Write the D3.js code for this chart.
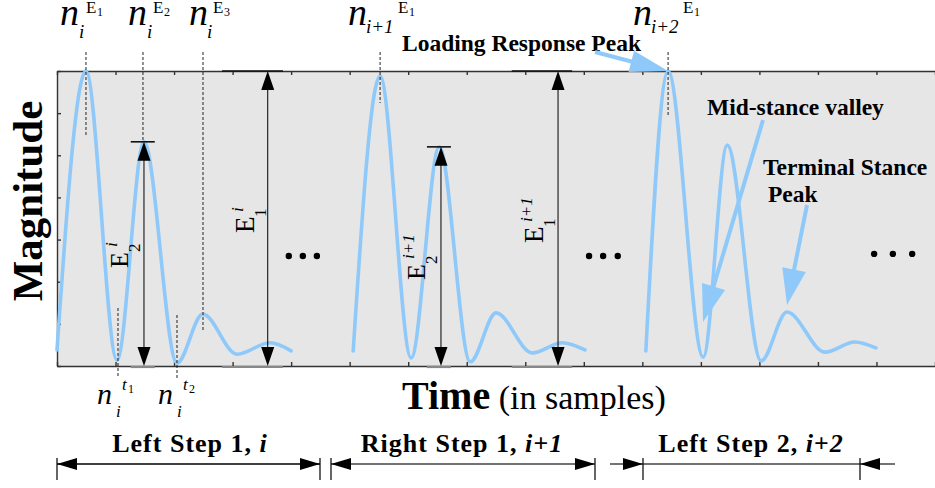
<!DOCTYPE html>
<html><head><meta charset="utf-8">
<script src="https://cdn.jsdelivr.net/npm/d3@7"></script>
<style>
body{margin:0;background:#fff}
svg{display:block}
text{font-family:"Liberation Serif","Times New Roman",serif;fill:#000}
</style>
</head><body>
<svg id="c" width="935" height="488"></svg>
<script>
// ---- data ----
const xTickValues = d3.range(0, 151, 10);   // samples
const yTickValues = d3.range(0, 8, 1);      // magnitude
const step1T = [0, 4.95, 10.25, 14.86, 20.5, 24.9, 30.75, 36.4, 40.0];
const step1V = [0.38, 7.0, 0.14, 5.32, 0.07, 1.23, 0.28, 0.55, 0.36];
const step2T = [50.6, 55.2, 60.5, 65.3, 70.6, 75.0, 81.2, 86.3, 90.2];
const step2V = [0.36, 6.88, 0.19, 5.2, 0.10, 1.26, 0.31, 0.55, 0.38];
const step3T = [100.6, 104.4, 110.4, 114.5, 120.3, 124.7, 131.2, 136.3, 139.9];
const step3V = [0.36, 7.0, 0.21, 5.24, 0.12, 1.28, 0.33, 0.57, 0.43];
const ellipsisT = [39.6, 42.0, 44.4, 90.9, 93.3, 95.8, 139.6, 142.8, 146.1];
const ellipsisV = [2.61, 2.61, 2.61, 2.61, 2.61, 2.61, 2.66, 2.66, 2.66];
const stepLabels = ["Left Step 1, ", "Right Step 1, ", "Left Step 2, "];
const stepIdx = ["i", "i+1", "i+2"];

const svg = d3.select("#c");
const x = d3.scaleLinear([0, 150], [57, 935]);
const y = d3.scaleLinear([0, 7], [366, 71]);

// background
svg.append("rect").attr("x", x(0)).attr("y", y(7))
  .attr("width", x(150) - x(0)).attr("height", y(0) - y(7)).attr("fill", "#e6e6e6");

// axes
function styleAxis(g){ g.selectAll("path,line").attr("stroke", "#333").attr("stroke-width", 1.4); }
svg.append("g").attr("transform", `translate(${x(0)},0)`)
  .call(d3.axisLeft(y).tickValues(yTickValues).tickSize(-4).tickSizeOuter(0).tickFormat(""))
  .call(styleAxis);
svg.append("g").attr("transform", `translate(0,${y(7)})`)
  .call(d3.axisTop(x).tickValues(xTickValues).tickSize(-4).tickSizeOuter(0).tickFormat(""))
  .call(styleAxis);
svg.append("g").attr("transform", `translate(0,${y(0)})`)
  .call(d3.axisBottom(x).tickValues(xTickValues).tickSize(-4).tickSizeOuter(0).tickFormat(""))
  .call(styleAxis);

// curves
const line = d3.line().x(d => x(d[0])).y(d => y(d[1])).curve(d3.curveMonotoneX);
[[step1T, step1V], [step2T, step2V], [step3T, step3V]].forEach(([T, V]) => {
  svg.append("path").datum(T.map((t, i) => [t, V[i]]))
    .attr("d", line).attr("fill", "none").attr("stroke", "#8fc9f9")
    .attr("stroke-width", 3.6).attr("stroke-linecap", "round");
});

// reference bars for E arrows
const barsTop = [[28.2, 38.6, 7], [12.6, 16.7, step1V[3]], [63.2, 67.3, step2V[3]], [77.7, 88.0, 7]];
barsTop.forEach(([a, b, v]) => {
  svg.append("line").attr("x1", x(a)).attr("x2", x(b)).attr("y1", y(v)).attr("y2", y(v))
    .attr("stroke", "#111").attr("stroke-width", 1.6);
  svg.append("line").attr("x1", x(a)).attr("x2", x(b)).attr("y1", y(0) + 1).attr("y2", y(0) + 1)
    .attr("stroke", "#888").attr("stroke-width", 2.2);
});

// E double arrows
const eArrowT = [14.86, 36.0, 65.6, 85.6];
const eArrowTop = [step1V[3], 7, step2V[3], 7];
eArrowT.forEach((t, i) => {
  const xx = x(t), yt = y(eArrowTop[i]), yb = y(0);
  svg.append("line").attr("x1", xx).attr("x2", xx).attr("y1", yt + 10).attr("y2", yb - 10)
    .attr("stroke", "#000").attr("stroke-width", 1);
  svg.append("path").attr("d", `M${xx},${yt}L${xx - 6.5},${yt + 19}L${xx + 6.5},${yt + 19}Z`).attr("fill", "#000");
  svg.append("path").attr("d", `M${xx},${yb}L${xx - 6.5},${yb - 19}L${xx + 6.5},${yb - 19}Z`).attr("fill", "#000");
});

// dashed guide lines
const dash = (x1, y1, y2) => svg.append("line").attr("x1", x1).attr("x2", x1).attr("y1", y1).attr("y2", y2)
  .attr("stroke", "#222").attr("stroke-width", 1).attr("stroke-dasharray", "3,2");
dash(x(step1T[1]), 52, 137);
dash(x(step1T[3]) - 1, 52, y(step1V[3]));
dash(203, 52, 330);
dash(x(step2T[1]), 52, 103);
dash(x(step3T[1]), 52, 117);
dash(x(step1T[2]) + 1, 308, 378);
dash(x(step1T[4]), 315, 378);

// ellipsis dots
ellipsisT.forEach((t, i) => svg.append("circle").attr("cx", x(t)).attr("cy", y(ellipsisV[i])).attr("r", 3.2).attr("fill", "#000"));

// helper for text
function txt(xp, yp, s, size, opts = {}) {
  const t = svg.append("text").attr("x", xp).attr("y", yp).attr("font-size", size).text(s);
  if (opts.italic) t.attr("font-style", "italic");
  if (opts.bold) t.attr("font-weight", "bold");
  if (opts.anchor) t.attr("text-anchor", opts.anchor);
  return t;
}

// top n labels
function nLabel(nx, sub, subDx, subY, eDx, eIdx) {
  txt(nx, 25, "n", 38, {italic: true});
  txt(nx + subDx, subY, sub, 19, {italic: true});
  txt(nx + eDx, 13, "E", 17);
  txt(nx + eDx + 11, 16, eIdx, 12);
}
nLabel(60, "i", 19, 38, 26, "1");
nLabel(128, "i", 19, 38, 25, "2");
nLabel(189, "i", 18, 38, 24, "3");
nLabel(348, "i+1", 18, 33, 50, "1");
nLabel(633, "i+2", 18, 33, 50, "1");

// bottom n labels
function tLabel(nx, idx) {
  txt(nx, 404, "n", 30, {italic: true});
  txt(nx + 19, 417, "i", 17, {italic: true});
  txt(nx + 25, 390, "t", 17, {italic: true});
  txt(nx + 31, 393, idx, 12);
}
tLabel(97, "1");
tLabel(158, "2");

// rotated E labels
function eLabel(px, py, sub, sup, size) {
  const g = svg.append("g").attr("transform", `translate(${px},${py}) rotate(-90)`);
  g.append("text").attr("x", 0).attr("y", 0).attr("font-size", size).text("E");
  g.append("text").attr("x", 16).attr("y", 12).attr("font-size", 17).text(sub);
  g.append("text").attr("x", 21).attr("y", -11).attr("font-size", 17).attr("font-style", "italic").text(sup);
}
eLabel(128, 268, "2", "i", 26);
eLabel(254, 233, "1", "i", 27);
eLabel(425, 280, "2", "i+1", 26);
eLabel(543, 243, "1", "i+1", 27);

// axis titles
svg.append("text").attr("transform", "translate(42,201) rotate(-90)")
  .attr("text-anchor", "middle").attr("font-size", 43).attr("font-weight", "bold").text("Magnitude");
const tt = svg.append("text").attr("x", 402).attr("y", 409);
tt.append("tspan").attr("font-size", 40).attr("font-weight", "bold").text("Time");
tt.append("tspan").attr("font-size", 34).text(" (in samples)");

// annotations
txt(402, 51, "Loading Response Peak", 23.5, {bold: true});
txt(707, 115, "Mid-stance valley", 23.5, {bold: true});
txt(763, 175, "Terminal Stance", 23.5, {bold: true});
txt(768, 202, "Peak", 23.5, {bold: true});

function blueArrow(x1, y1, x2, y2, hl, hw) {
  const dx = x2 - x1, dy = y2 - y1, L = Math.hypot(dx, dy), ux = dx / L, uy = dy / L;
  const bx = x2 - ux * hl, by = y2 - uy * hl;
  svg.append("line").attr("x1", x1).attr("y1", y1).attr("x2", bx + ux * 2).attr("y2", by + uy * 2)
    .attr("stroke", "#8fc9f9").attr("stroke-width", 4);
  svg.append("path").attr("d", `M${x2},${y2}L${bx - uy * hw},${by + ux * hw}L${bx + uy * hw},${by - ux * hw}Z`)
    .attr("fill", "#8fc9f9");
}
blueArrow(595, 52, x(step3T[1]), y(7), 38, 11);
blueArrow(763, 120, 703, 322, 37, 12);
blueArrow(807, 205, 787, 305, 36, 12);

// step span arrows
const ay = 464;
function bar(xp) { svg.append("line").attr("x1", xp).attr("x2", xp).attr("y1", ay - 6).attr("y2", ay + 16).attr("stroke", "#000").attr("stroke-width", 1.2); }
function head(tip, dir) { // dir=-1 points left, +1 points right
  svg.append("path").attr("d", `M${tip},${ay}L${tip - dir * 20},${ay - 6}L${tip - dir * 20},${ay + 6}Z`).attr("fill", "#000");
}
function hline(a, b, c) { svg.append("line").attr("x1", a).attr("x2", b).attr("y1", ay).attr("y2", ay).attr("stroke", c).attr("stroke-width", 1.4); }
hline(57, 320, "#000"); bar(57); bar(320); head(57, -1); head(320, 1);
hline(331, 595, "#444"); bar(331); bar(595); head(331, -1); head(595, 1);
hline(610, 895, "#444"); bar(643); bar(860); head(643, 1); head(860, -1);

const spanCenters = [190, 462, 751];
stepLabels.forEach((s, i) => {
  const t = svg.append("text").attr("x", spanCenters[i]).attr("y", 452).attr("text-anchor", "middle")
    .attr("font-size", 26).attr("font-weight", "bold").attr("letter-spacing", 1);
  t.append("tspan").text(s);
  t.append("tspan").attr("font-style", "italic").text(stepIdx[i]);
});
</script>
</body></html>
